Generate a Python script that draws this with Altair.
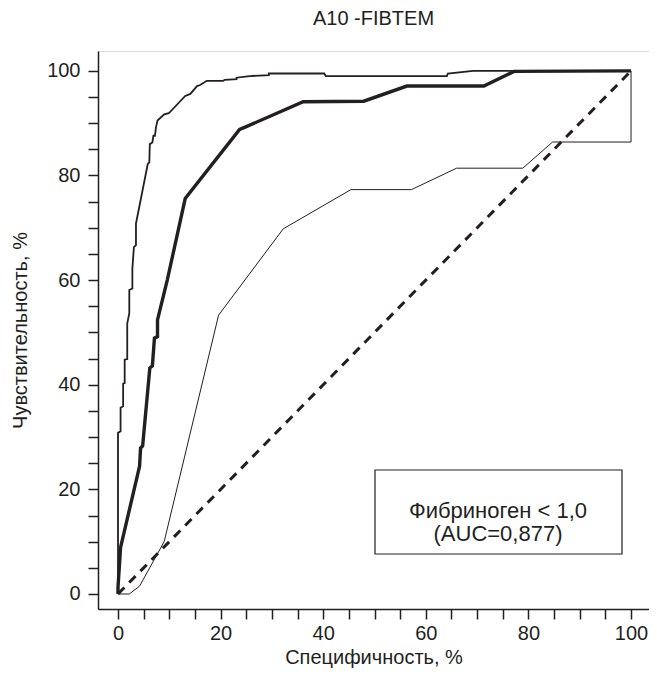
import altair as alt
import pandas as pd

# ---- data ----
roc_x = [0, 0, 0.5, 4.2, 4.4, 4.8, 6.2, 6.7, 7.1, 7.7, 7.7, 9.6, 13.1, 23.7, 24.9, 36.1, 47.9, 56.3, 71.3, 77.2, 100]
roc_y = [0, 1.3, 8.9, 24.4, 27.9, 28.3, 43.2, 43.6, 48.9, 49.2, 52.4, 60.0, 75.6, 88.8, 89.3, 94.1, 94.2, 97.1, 97.1, 99.9, 100]

upper_x = [0, 0, 0.5, 0.5, 1.0, 1.0, 1.3, 1.3, 1.8, 1.8, 2.2, 2.2, 2.8, 2.8, 3.1, 3.5, 3.5, 5.8, 6.1, 6.2,
           6.7, 6.9, 7.2, 7.4, 7.7, 9.0, 9.9, 13.1, 14.1, 15.4, 16.0, 17.3, 20.5, 20.8, 23.1, 23.1, 25.7,
           29.4, 29.4, 40.2, 40.5, 64.1, 64.3, 69.2, 100]
upper_y = [0, 30.8, 31.1, 35.6, 35.9, 40.2, 40.3, 44.8, 44.9, 51.7, 53.7, 58.1, 58.4, 62.2, 66.3, 66.7, 70.8, 82.2, 82.5, 86.0,
           86.3, 87.6, 87.6, 89.2, 90.5, 91.7, 91.9, 95.2, 95.6, 97.1, 97.3, 98.1, 98.1, 98.3, 98.4, 98.7, 99.0,
           99.2, 99.5, 99.5, 99.0, 99.0, 99.5, 100, 100]

lower_x = [0, 2.2, 4.2, 9.0, 19.6, 32.2, 45.4, 57.2, 66.0, 78.9, 84.7, 100, 100]
lower_y = [0, 0, 1.5, 10.0, 53.3, 69.8, 77.3, 77.3, 81.4, 81.4, 86.4, 86.4, 100]

diag_x = [0, 100]
diag_y = [0, 100]

tick_values = list(range(0, 101, 5))
chart_title = "A10 -FIBTEM"
x_title = "Специфичность, %"
y_title = "Чувствительность, %"
legend_lines = ["Фибриноген < 1,0", "(AUC=0,877)"]

# ---- styling ----
INK = "#231f20"
FONT = "Liberation Sans"
X_DOMAIN = [-3.9, 103.5]
Y_DOMAIN = [-2.87, 103.8]
W, H = 551, 558


def frame(xs, ys):
    return pd.DataFrame({"x": xs, "y": ys, "i": list(range(len(xs)))})


def axis(title, title_size, **kw):
    return alt.Axis(
        values=tick_values,
        labelExpr="datum.value % 20 == 0 ? datum.label : ''",
        title=title,
        grid=False,
        domainColor=INK,
        domainWidth=1.5,
        tickColor=INK,
        tickWidth=1.5,
        tickSize=10,
        labelFont=FONT,
        labelFontSize=20,
        labelColor=INK,
        titleFont=FONT,
        titleFontSize=title_size,
        titleFontWeight="normal",
        titleColor=INK,
        **kw,
    )


x_enc = alt.X("x:Q", scale=alt.Scale(domain=X_DOMAIN, nice=False, zero=False),
              axis=axis(x_title, 20, labelPadding=4, titleY=48, titleBaseline="middle"))
y_enc = alt.Y("y:Q", scale=alt.Scale(domain=Y_DOMAIN, nice=False, zero=False),
              axis=axis(y_title, 20, labelPadding=8, titleX=-78, titleAngle=-90,
                        titleBaseline="middle", titleAlign="center"))


def curve(xs, ys, width, dash=None):
    kw = dict(color=INK, strokeWidth=width, strokeJoin="miter", clip=True)
    if dash:
        kw["strokeDash"] = dash
    return alt.Chart(frame(xs, ys)).mark_line(**kw).encode(x=x_enc, y=y_enc, order="i:Q")


diag = curve(diag_x, diag_y, 3, dash=[9, 7])
lower = curve(lower_x, lower_y, 1.0)
upper = curve(upper_x, upper_y, 1.8)
roc = curve(roc_x, roc_y, 3.4)

box = alt.Chart(pd.DataFrame({"k": [0]})).mark_rect(
    fill="white", stroke=INK, strokeWidth=1.2
).encode(x=alt.value(277), x2=alt.value(524), y=alt.value(419), y2=alt.value(503))

label = alt.Chart(pd.DataFrame({"k": [0]})).mark_text(
    text=legend_lines, font=FONT, fontSize=22, color=INK,
    align="center", baseline="middle", lineHeight=23
).encode(x=alt.value(400), y=alt.value(460))

chart = alt.layer(diag, lower, upper, roc, box, label).properties(
    width=W,
    height=H,
    title=alt.TitleParams(chart_title, font=FONT, fontSize=20, fontWeight="normal",
                          color=INK, anchor="middle", baseline="alphabetic", offset=6),
    autosize=alt.AutoSizeParams(type="none"),
    padding={"left": 90, "top": 43, "right": 0, "bottom": 60},
).configure_view(stroke=None).configure(background="white")

chart.save("out.html", embed_options={"renderer": "svg", "actions": False})
